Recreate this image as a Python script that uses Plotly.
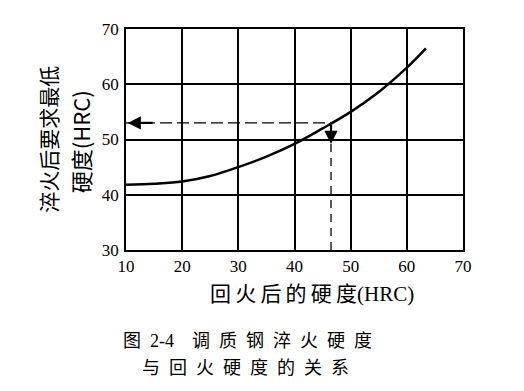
import plotly.graph_objects as go

# Data
tempered_hrc = [10, 15, 20, 25, 30, 35, 40, 45, 50, 55, 60, 63.4]
quench_hrc = [41.8, 42.0, 42.4, 43.4, 45.0, 46.9, 49.2, 52.0, 55.0, 58.6, 63.0, 66.5]

example_x = [46.5]
example_y = [53.0]

x_ticks = [10, 20, 30, 40, 50, 60, 70]
y_ticks = [30, 40, 50, 60, 70]

FONT = "Liberation Serif, Noto Sans CJK SC"
SP = "\u2002"

fig = go.Figure()

fig.add_trace(go.Scatter(x=tempered_hrc, y=quench_hrc, mode="lines",
                         line=dict(color="black", width=2.5, shape="spline", smoothing=1.0),
                         showlegend=False, hoverinfo="skip"))

# dashed horizontal guide
fig.add_trace(go.Scatter(x=[x_ticks[0], example_x[0]], y=[example_y[0], example_y[0]],
                         mode="lines", line=dict(color="black", width=1.3, dash="12px,5px"),
                         showlegend=False, hoverinfo="skip"))
# dashed vertical guide
fig.add_trace(go.Scatter(x=[example_x[0], example_x[0]], y=[y_ticks[0], example_y[0]],
                         mode="lines", line=dict(color="black", width=1.3, dash="8px,6px"),
                         showlegend=False, hoverinfo="skip"))

# arrows
fig.add_annotation(x=x_ticks[0] + 0.3, y=example_y[0], ax=x_ticks[0] + 5, ay=example_y[0],
                   xref="x", yref="y", axref="x", ayref="y", text="",
                   showarrow=True, arrowhead=2, arrowsize=1.2, arrowwidth=2.2, arrowcolor="black")
fig.add_annotation(x=example_x[0], y=49.2, ax=example_x[0], ay=example_y[0],
                   xref="x", yref="y", axref="x", ayref="y", text="",
                   showarrow=True, arrowhead=2, arrowsize=1.2, arrowwidth=2.2, arrowcolor="black")

# y-axis title (two rotated lines)
fig.add_annotation(text="淬火后要求最低", xref="paper", yref="paper",
                   x=-0.234, y=0.5, xanchor="center", yanchor="middle",
                   showarrow=False, textangle=-90,
                   font=dict(family="Noto Sans CJK SC", size=21, color="black"))
fig.add_annotation(text="硬度(HRC)", xref="paper", yref="paper",
                   x=-0.138, y=0.49, xanchor="center", yanchor="middle",
                   showarrow=False, textangle=-90,
                   font=dict(family="Noto Sans CJK SC", size=22, color="black"))

# x-axis title
fig.add_annotation(text="\u2009".join(list("回火后的硬度")) + "(HRC)", xref="paper", yref="paper",
                   x=0.552, y=-0.198, xanchor="center", yanchor="middle", showarrow=False,
                   font=dict(family=FONT, size=21, color="black"))

# caption
fig.add_annotation(text=SP.join(["图", "2-4", "", "调", "质", "钢", "淬", "火", "硬", "度"]),
                   xref="paper", yref="paper",
                   x=0.362, y=-0.41, xanchor="center", yanchor="middle", showarrow=False,
                   font=dict(family=FONT, size=18, color="black"))
fig.add_annotation(text=SP.join(list("与回火硬度的关系")), xref="paper", yref="paper",
                   x=0.354, y=-0.535, xanchor="center", yanchor="middle", showarrow=False,
                   font=dict(family=FONT, size=18, color="black"))

axis_common = dict(showgrid=True, gridcolor="black", gridwidth=1.5,
                   showline=True, linecolor="black", linewidth=1.8, mirror=True,
                   zeroline=False, ticks="", tickfont=dict(family=FONT, size=17, color="black"))

fig.update_xaxes(range=[10, 70], tickvals=x_ticks, ticktext=[str(v) for v in x_ticks],
                 **axis_common)
fig.update_yaxes(range=[30, 70], tickvals=y_ticks, ticktext=[str(v) for v in y_ticks],
                 ticklabelstandoff=2, **axis_common)

fig.update_layout(width=516, height=383, margin=dict(l=118, r=61, t=15, b=141),
                  plot_bgcolor="white", paper_bgcolor="white", showlegend=False)

fig.write_html("out.html")
